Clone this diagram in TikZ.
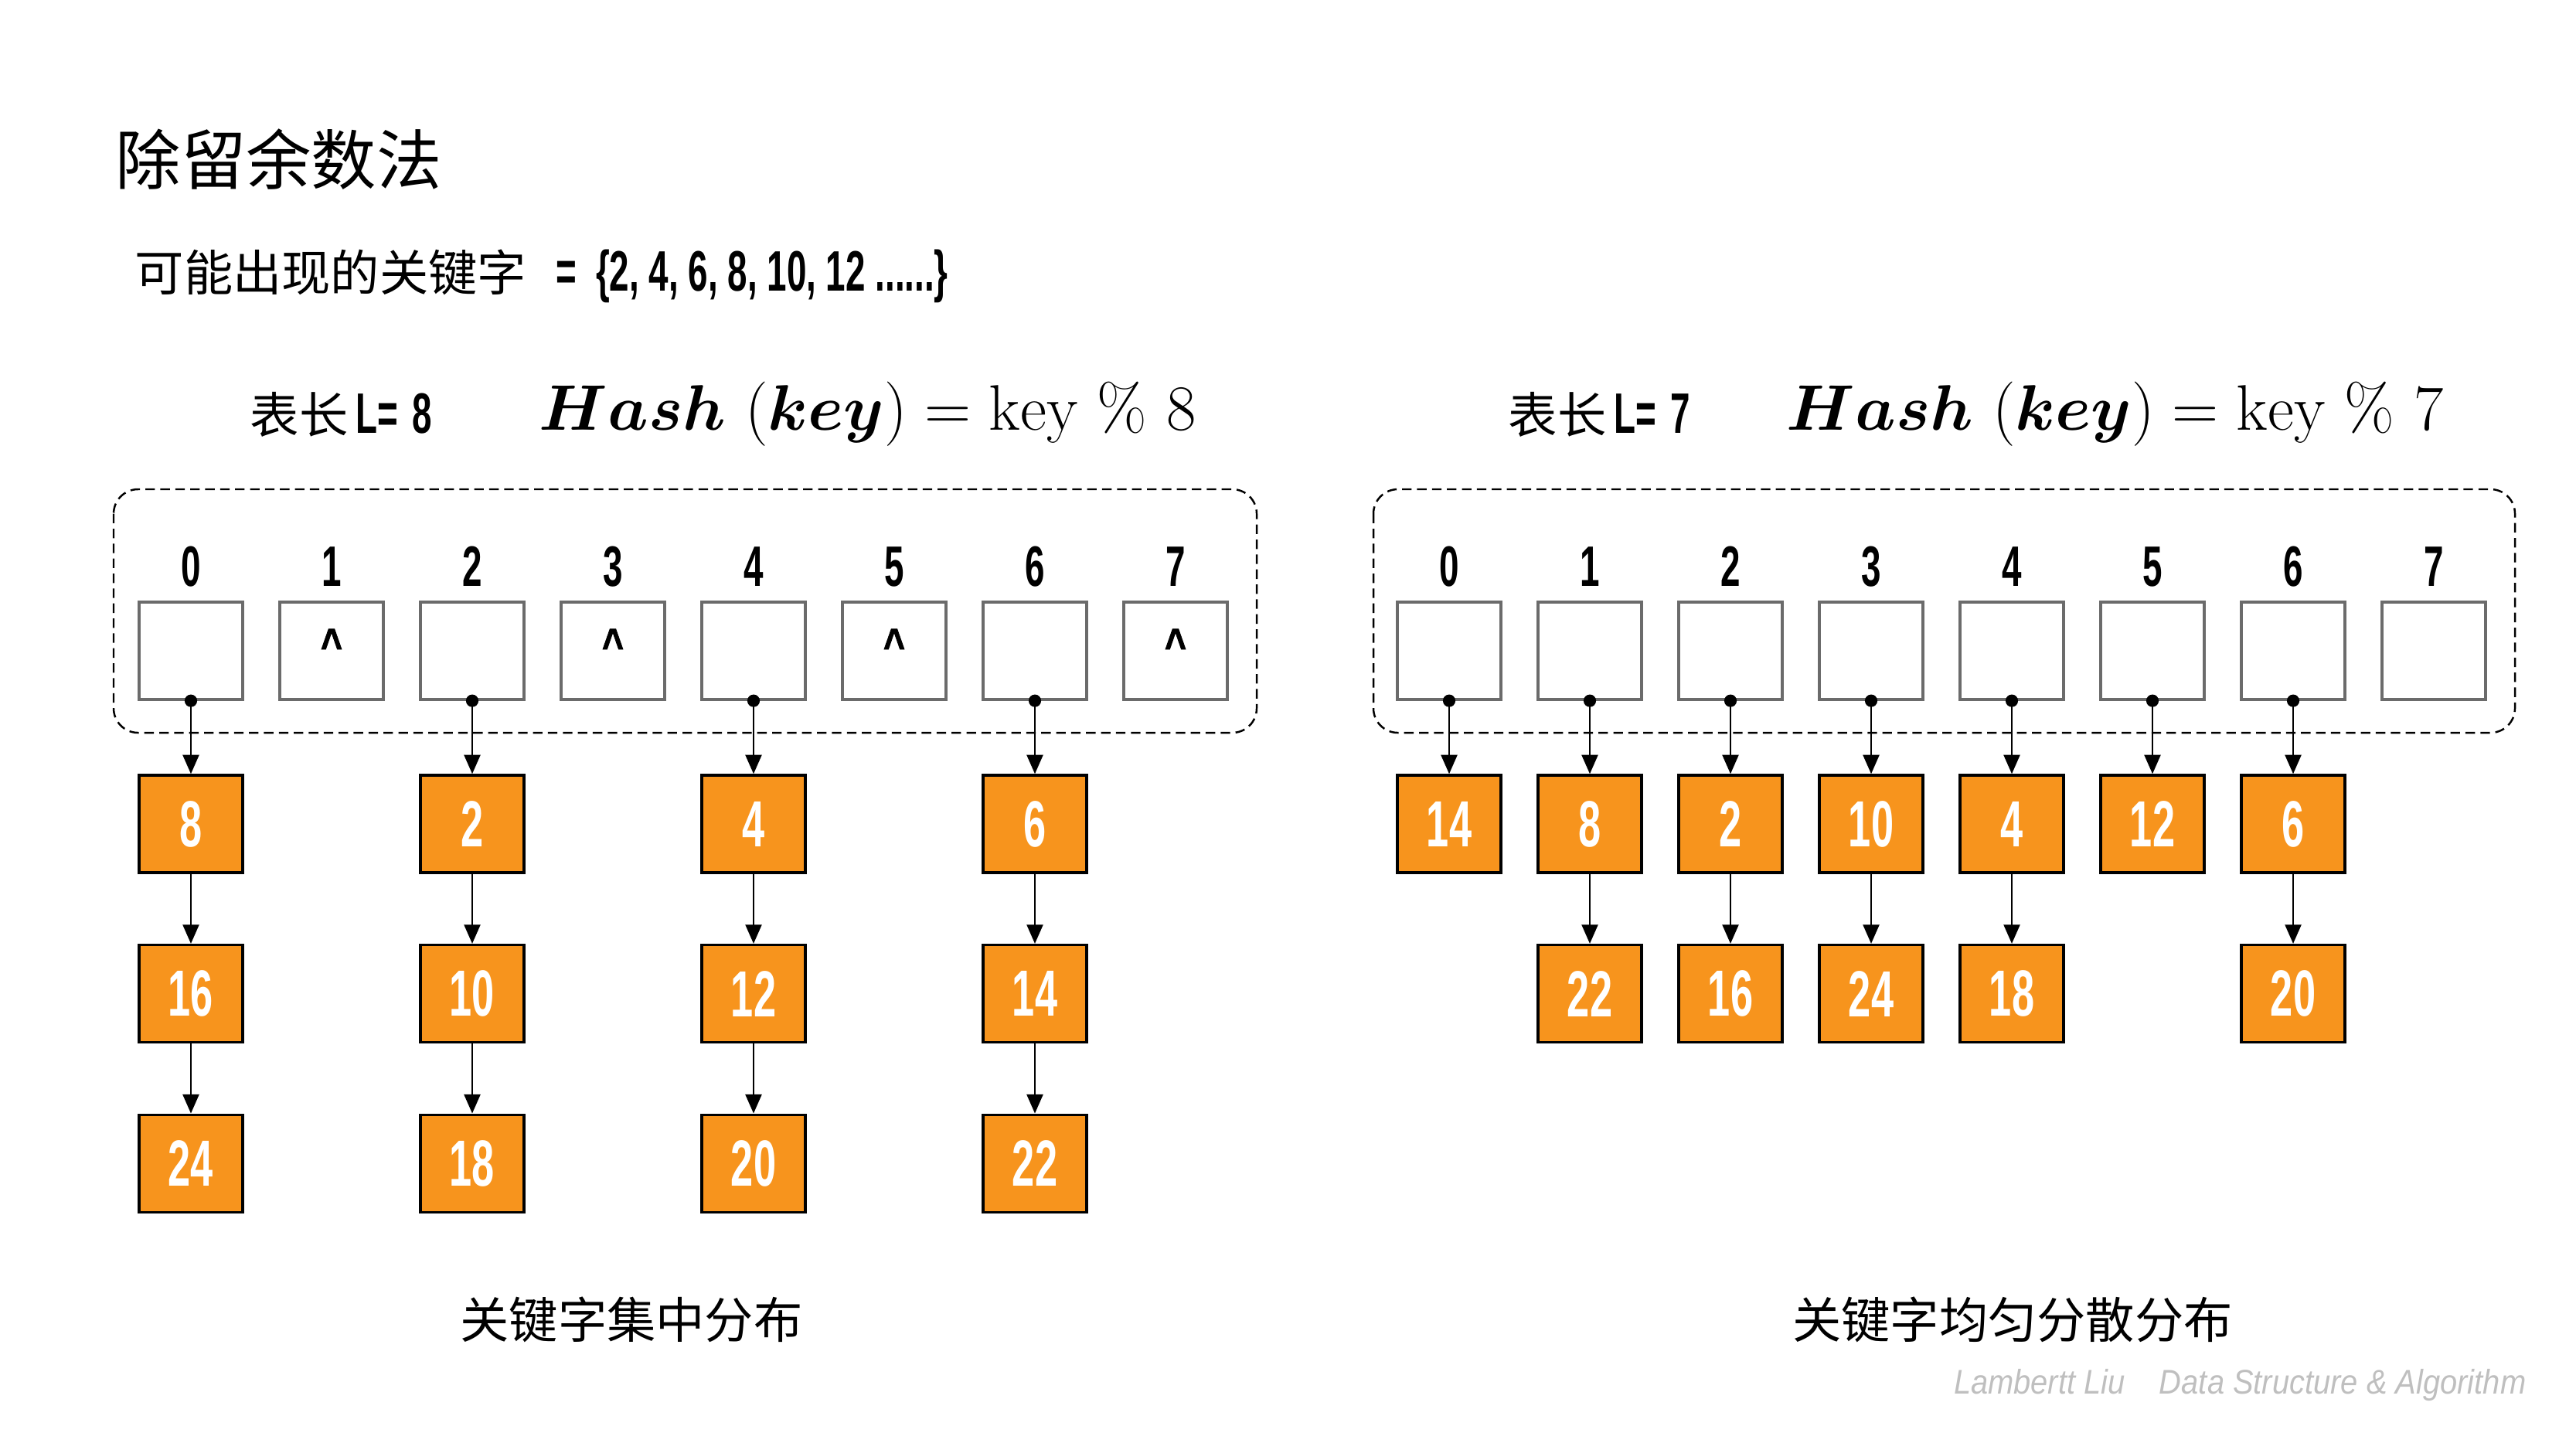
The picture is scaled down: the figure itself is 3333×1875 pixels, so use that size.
\RequirePackage{fix-cm}
\documentclass[tikz,border=0pt]{standalone}
\usepackage{fontspec}
\usepackage{amsmath,bm}
\usetikzlibrary{arrows.meta,positioning}
\newfontfamily\cjk{Noto Sans CJK SC}
\newfontfamily\digit[FakeStretch=0.62]{Liberation Sans Bold}
\newfontfamily\caret[FakeStretch=0.8,FakeBold=1.5]{Liberation Sans Bold}
\newfontfamily\credit[FakeStretch=0.9]{Liberation Sans Italic}
\definecolor{keyorange}{HTML}{F7941D}
\definecolor{slotgray}{HTML}{6B6B6B}
\definecolor{creditgray}{HTML}{BFBFBF}

\begin{document}
\begin{tikzpicture}[
  x=0.01cm, y=-0.01cm,
  slot/.style={draw=slotgray, line width=0.9pt, minimum width=1.34cm,
               minimum height=1.26cm, inner sep=0pt},
  key/.style={draw, line width=1pt, fill=keyorange, text=white,
              minimum width=1.34cm, minimum height=1.26cm, inner sep=0pt,
              font=\digit\fontsize{24}{24}\selectfont},
  idx/.style={font=\digit\fontsize{21}{21}\selectfont},
  nil/.style={anchor=base, font=\caret\fontsize{17}{17}\selectfont},
  frame/.style={draw, line width=0.7pt, dash pattern=on 3.5pt off 2pt,
                rounded corners=9pt},
  link/.style={-{Triangle[width=6pt,length=7pt]}, line width=0.6pt},
  dot/.style={circle, fill, inner sep=0pt, minimum size=4.6pt},
  cjktext/.style={font=\cjk\fontsize{18}{18}\selectfont},
  label/.style={anchor=west, inner sep=0pt}]

\useasboundingbox (0,0) rectangle (3333,1875);

% ================= heading ================================================
\node[label, font=\cjk\fontsize{24}{24}\selectfont] (title) at (149,206)
  {除留余数法};
\node[label, font=\fontsize{18}{18}\selectfont] (keys) at (174,357)
  {{\cjk 可能出现的关键字}\hspace{11pt}{\digit\fontsize{21}{21}\selectfont
   =\hspace{7pt}\{2, 4, 6, 8, 10, 12 ......\}}};

% ================= L = 8 ==================================================
\begin{scope}
  \node[label, cjktext] (Lhead) at (323,536)
    {表长\hspace{3pt}{\digit\fontsize{21}{21}\selectfont L=\hspace{5pt}8}};
  \node[label, font=\fontsize{23.7}{28}\selectfont] (Lhash) at (697,536)
    {$\bm{Hash}\ (\bm{key}) = \mathrm{key}\ \%\ 8$};

  \draw[frame] (147,633) rectangle (1626,948);
  \foreach \i [evaluate=\i as \x using {int(247+182*\i)}] in {0,...,7}
    {\node[slot] (Lb\i) at (\x,842) {};
     \node[idx] (Li\i) at (\x,733) {\i};}
  \foreach \i [evaluate=\i as \x using {int(247+182*\i)}] in {1,3,5,7}
    {\node[nil] (Ln\i) at (\x,855) {\textasciicircum};}

  % every key lands on an even slot
  \foreach \c/\a/\b/\d in {0/8/16/24, 2/2/10/18, 4/4/12/20, 6/6/14/22}
    {\node[key] (Lk\c-1) at (Lb\c |- 0,1066) {\a};
     \node[key, below=0.9cm of Lk\c-1] (Lk\c-2) {\b};
     \node[key, below=0.9cm of Lk\c-2] (Lk\c-3) {\d};
     \node[dot] (Ld\c) at (Lb\c.south) {};
     \draw[link] (Ld\c.center) -- (Lk\c-1.north);
     \draw[link] (Lk\c-1) -- (Lk\c-2);
     \draw[link] (Lk\c-2) -- (Lk\c-3);}

  \node[cjktext] (Lcap) at (817,1707) {关键字集中分布};
\end{scope}

% ================= L = 7 ==================================================
\begin{scope}
  \node[label, cjktext] (Rhead) at (1951,536)
    {表长\hspace{3pt}{\digit\fontsize{21}{21}\selectfont L=\hspace{5pt}7}};
  \node[label, font=\fontsize{23.7}{28}\selectfont] (Rhash) at (2311,536)
    {$\bm{Hash}\ (\bm{key}) = \mathrm{key}\ \%\ 7$};

  \draw[frame] (1777,633) rectangle (3254,948);
  \foreach \i [evaluate=\i as \x using {int(1875+182*\i)}] in {0,...,7}
    {\node[slot] (Rb\i) at (\x,842) {};
     \node[idx] (Ri\i) at (\x,733) {\i};}

  \foreach \c/\a in {0/14, 1/8, 2/2, 3/10, 4/4, 5/12, 6/6}
    {\node[key] (Rk\c-1) at (Rb\c |- 0,1066) {\a};
     \node[dot] (Rd\c) at (Rb\c.south) {};
     \draw[link] (Rd\c.center) -- (Rk\c-1.north);}
  \foreach \c/\b in {1/22, 2/16, 3/24, 4/18, 6/20}
    {\node[key, below=0.9cm of Rk\c-1] (Rk\c-2) {\b};
     \draw[link] (Rk\c-1) -- (Rk\c-2);}

  \node[cjktext] (Rcap) at (2604,1707) {关键字均匀分散分布};
\end{scope}

\node[anchor=east, inner sep=0pt, text=creditgray,
      font=\credit\fontsize{12.6}{12.6}\selectfont]
  (credit) at (3269,1792) {Lambertt Liu\quad Data Structure \& Algorithm};

\end{tikzpicture}
\end{document}
